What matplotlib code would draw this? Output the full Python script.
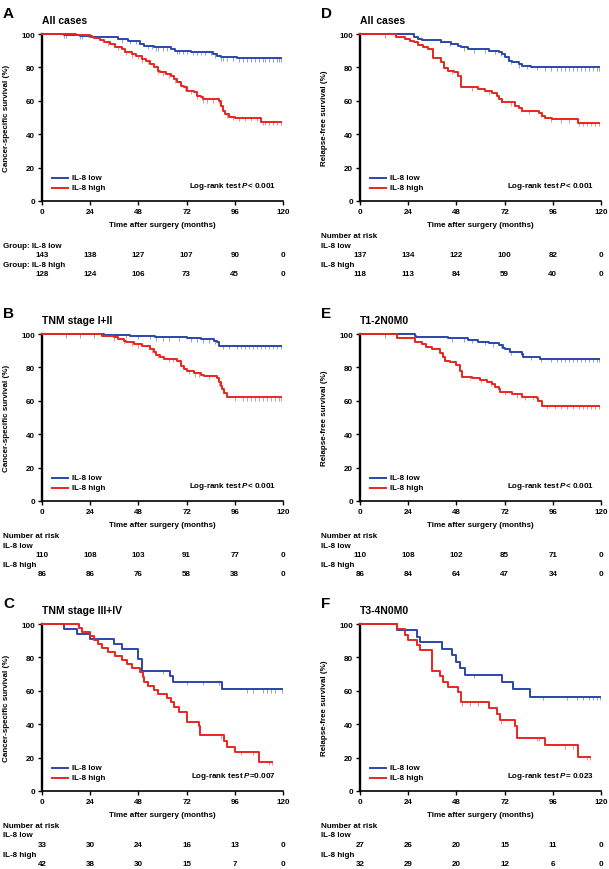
import numpy as np
import matplotlib
matplotlib.use("Agg")
import matplotlib.pyplot as plt
from matplotlib.transforms import blended_transform_factory

plt.rcParams['font.family'] = ['Liberation Sans', 'DejaVu Sans']
plt.rcParams['font.weight'] = 'bold'
plt.rcParams['mathtext.fontset'] = 'custom'
plt.rcParams['mathtext.it'] = 'Liberation Sans:bold:italic'
plt.rcParams['mathtext.rm'] = 'Liberation Sans:bold'

BLUE = '#2a48aa'
RED = '#e8261e'

# ---- data: step curves (drop time in months, survival % after drop) ----
a_low_t = [11, 19, 25, 34, 38, 43, 49, 51, 56, 64, 66, 74, 85, 87, 89, 97]
a_low_s = [99.5, 99, 98.5, 98, 97, 96, 94, 93, 92, 91, 90, 89.5, 88, 87, 86, 85.5]
a_low_c = [11, 12, 19, 20, 40, 44, 47, 53, 55, 57, 58, 60, 62, 67, 68, 70, 72, 75, 77, 79, 81,
           84, 86, 89, 90, 92, 95, 98, 100, 102, 104, 106, 108, 110, 111, 113, 115, 117, 118, 119]
a_high_t = [17, 24, 26, 29, 31, 34, 36.5, 40, 41.5, 45, 47, 50, 52, 54, 56, 58, 59, 61.5, 64,
            65.5, 67, 69, 70.5, 72, 75.5, 77, 79, 80, 88, 89, 90, 91, 93, 96, 109]
a_high_s = [99.5, 98.5, 97.5, 96.5, 95, 94, 92.5, 91, 89.5, 88, 87, 85, 84, 82, 80, 78, 77, 76, 75,
            73, 71, 69, 68, 66, 65, 63, 62, 61, 60, 57, 54, 52, 50.5, 50, 47.5]
a_high_c = [33, 38, 42, 45, 48, 50, 53, 58, 60, 63, 66, 71, 74, 77, 80, 82, 85, 88, 92, 95, 98,
            101, 104, 107, 110, 111, 113, 115, 117, 119]

b_low_t = [30.7, 44, 56.4, 72, 79, 85.5, 87, 88]
b_low_s = [99.5, 99, 98, 97.5, 97, 96, 95, 93]
b_low_c = [12, 19, 26, 36, 42, 48, 54, 57, 60, 63, 68, 74, 77, 80, 83, 86, 90, 93, 97, 99, 101,
           103, 105, 107, 109, 111, 113, 115, 117, 119]
b_high_t = [30, 35.7, 38, 40.7, 42, 45.6, 50, 54, 55.6, 57, 59, 60.6, 67, 69, 70.5, 72, 75.5,
            79, 80.5, 87, 88, 89, 89.6, 90.5, 92]
b_high_s = [99, 98, 97, 96, 95, 94, 93, 91, 89, 87.5, 86, 85.3, 84, 81, 79, 78, 76.5, 75.5, 75,
            73.5, 71, 69, 67, 64.5, 62]
b_high_c = [36, 41, 45, 48, 55, 58, 63, 65, 73, 76, 78, 83, 88, 90, 96, 100, 102, 104, 106, 108,
            110, 112, 114, 116, 118, 119]

c_low_t = [10.8, 17.4, 24, 35.7, 39.8, 48, 49.8, 63.9, 65.2, 89.6]
c_low_s = [97, 94, 91, 88, 85, 79, 72, 69, 65.5, 60.8]
c_low_c = [60, 72, 80, 88, 102, 105, 110, 112, 114, 116, 119.5]
c_high_t = [18.3, 20, 24, 25.7, 28, 30, 33, 36.5, 40, 42.3, 44.8, 49, 50.3, 50.6, 53, 55.6, 58,
            62, 64, 65.5, 68, 72, 78, 78.8, 90.5, 92, 96.3, 108]
c_high_s = [97.5, 95, 93, 90.5, 88, 85.5, 83, 81, 78.5, 76, 73.5, 71, 68.5, 65.5, 63, 60.5, 58,
            55.5, 53, 50.5, 47.5, 41.5, 39, 33.5, 30, 26.5, 23.5, 17.5]
c_high_c = [89, 99, 105, 113, 114.6]

d_low_t = [27, 29, 31, 40.5, 45.5, 49, 50.5, 54, 64, 69, 70.5, 72, 74, 75.5, 79, 80.5, 85, 90.5]
d_low_s = [98, 97, 96.5, 95, 94, 93, 92, 91, 90, 89, 88, 86, 84, 83, 82, 81, 80.5, 80]
d_low_c = [12.5, 40, 45, 52, 57, 62, 67, 70, 75, 79, 83, 88, 92, 95, 98, 100, 102, 104, 106, 108,
           110, 112, 114, 116, 118, 119]
d_high_t = [18, 22.5, 25, 27, 29, 31.5, 34, 36.5, 40.5, 42, 44, 47, 49, 50.5, 54, 59, 62, 65.5,
            68, 69, 70.5, 72, 77, 79, 80.5, 89, 90.5, 92, 95.5, 108.7]
d_high_s = [98, 97, 96, 95, 93.5, 92, 91, 85.5, 83, 79.5, 78, 77, 75, 68.5, 68, 67, 66, 64.5, 63,
            61, 59.5, 59, 57, 55.5, 54, 52.5, 51, 49.5, 49, 47]
d_high_c = [46, 56, 64, 70, 75, 80, 84, 90, 95, 100, 104, 109, 111, 113, 115, 117, 119]

e_low_t = [27.4, 28, 44, 54, 59, 64, 69, 71.4, 72, 74.7, 80.5, 81.3, 89.6]
e_low_s = [99, 98.5, 97.5, 96.5, 95.5, 94.5, 93.5, 91.5, 91, 89.5, 88, 86.5, 85.3]
e_low_c = [12.5, 46, 52, 56, 62, 66, 70, 75, 80, 85, 90, 95, 98, 100, 102, 104, 106, 108, 110,
           112, 114, 116, 118, 119]
e_high_t = [18.3, 27.4, 30.7, 33, 35.7, 40, 41.5, 42.3, 44.8, 48, 49.8, 50.6, 55.6, 59.8, 63,
            65.6, 67, 69, 69.7, 75.5, 80.5, 88, 88.8, 90.5]
e_high_s = [97.5, 95.5, 94, 92.5, 91, 88.5, 86, 84, 83, 81.5, 78, 74.5, 73.5, 72.5, 71, 70, 68.5,
            67, 65.5, 64, 62.5, 61.5, 60, 57]
e_high_c = [55, 60, 65, 72, 78, 82, 86, 93, 97, 100, 103, 106, 109, 111, 113, 115, 117, 119]

f_low_t = [18.3, 28.2, 30, 40.7, 45.6, 48, 49.8, 52.3, 70.5, 76.3, 84.6]
f_low_s = [96.5, 92.5, 89, 85, 81.5, 77.5, 73.5, 69.5, 65.5, 61, 56.5]
f_low_c = [57, 70, 91, 103, 108, 111, 114, 116, 118, 119.5]
f_high_t = [18.3, 22.4, 24, 28.2, 30, 35.7, 39.8, 41.5, 44, 49, 50.3, 64, 68, 69.7, 77.2, 78, 92,
            108.7]
f_high_s = [97, 93.5, 90.5, 87.5, 84.5, 72, 69, 65.5, 62.5, 59, 53, 50, 46, 42.5, 39, 32, 27.5,
            20.5]
f_high_c = [51, 55, 59, 70, 88, 89, 102, 106, 113, 114.5]

# numbers at risk at 0, 24, 48, 72, 96, 120 months
risk_times = [0, 24, 48, 72, 96, 120]
a_risk_low = [143, 138, 127, 107, 90, 0]
a_risk_high = [128, 124, 106, 73, 45, 0]
b_risk_low = [110, 108, 103, 91, 77, 0]
b_risk_high = [86, 86, 76, 58, 38, 0]
c_risk_low = [33, 30, 24, 16, 13, 0]
c_risk_high = [42, 38, 30, 15, 7, 0]
d_risk_low = [137, 134, 122, 100, 82, 0]
d_risk_high = [118, 113, 84, 59, 40, 0]
e_risk_low = [110, 108, 102, 85, 71, 0]
e_risk_high = [86, 84, 64, 47, 34, 0]
f_risk_low = [27, 26, 20, 15, 11, 0]
f_risk_high = [32, 29, 20, 12, 6, 0]

W, H = 609, 870
fig = plt.figure(figsize=(W / 100, H / 100), dpi=100)

FS = 5.8


def draw_curve(ax, t, s, cens, color):
    tt = np.concatenate([[0], t])
    ss = np.concatenate([[100], s])
    end = max(cens[-1], t[-1])
    tt = np.append(tt, end)
    ss = np.append(ss, ss[-1])
    ax.plot(tt, ss, drawstyle='steps-post', color=color, lw=1.4, clip_on=False, zorder=3)
    cens = np.array(cens)
    idx = np.searchsorted(tt, cens, side='right') - 1
    ax.plot(cens, ss[idx] - 0.9, linestyle='none', marker='|', ms=3, mew=0.6,
            color=color, alpha=0.6, clip_on=False, zorder=2)


def panel(letter, title, left, top, ylabel, low, high, risk_low, risk_high, pval,
          group_labels=False):
    right = left + 241
    bottom = top + 167
    ax = fig.add_axes([left / W, 1 - bottom / H, (right - left) / W, (bottom - top) / H])
    draw_curve(ax, *low, BLUE)
    draw_curve(ax, *high, RED)
    ax.set_xlim(0, 120)
    ax.set_ylim(0, 100)
    ax.set_xticks(risk_times)
    ax.set_yticks([0, 20, 40, 60, 80, 100])
    for sp in ['top', 'right']:
        ax.spines[sp].set_visible(False)
    ax.spines['left'].set_linewidth(1.7)
    ax.spines['bottom'].set_linewidth(1.2)
    ax.tick_params(direction='out', length=3, width=1.0, labelsize=FS, pad=2)
    for lab in ax.get_xticklabels() + ax.get_yticklabels():
        lab.set_fontweight('bold')

    # legend
    ax.plot([5, 13], [13.8, 13.8], color=BLUE, lw=1.4)
    ax.plot([5, 13], [7.8, 7.8], color=RED, lw=1.4)
    ax.text(15, 13.8, 'IL-8 low', fontsize=FS, va='center', ha='left')
    ax.text(15, 7.8, 'IL-8 high', fontsize=FS, va='center', ha='left')
    ax.text(116.5, 9, 'Log-rank test $\\mathit{P}$' + pval, fontsize=FS, va='center', ha='right')

    px = lambda y: 1 - y / H
    fig.text((left - 35) / W, px((top + bottom) / 2), ylabel, rotation=90, fontsize=FS,
             ha='center', va='center')
    fig.text((left + right) / 2 / W, px(bottom + 24), 'Time after surgery (months)',
             fontsize=FS, ha='center', va='center')
    fig.text(left / W, px(top - 13.5), title, fontsize=7.5, ha='left', va='center')
    fig.text((left - 39) / W, px(top - 21.5), letter, fontsize=11, ha='left', va='center')

    lx = (left - 39) / W
    if group_labels:
        fig.text(lx, px(bottom + 44), 'Group: IL-8 low', fontsize=FS, va='center')
        fig.text(lx, px(bottom + 63.5), 'Group: IL-8 high', fontsize=FS, va='center')
    else:
        fig.text(lx, px(bottom + 34.5), 'Number at risk', fontsize=FS, va='center')
        fig.text(lx, px(bottom + 44), 'IL-8 low', fontsize=FS, va='center')
        fig.text(lx, px(bottom + 63.5), 'IL-8 high', fontsize=FS, va='center')
    tr = blended_transform_factory(ax.transData, fig.transFigure)
    for tm, n1, n2 in zip(risk_times, risk_low, risk_high):
        ax.text(tm, px(bottom + 53.5), str(n1), transform=tr, fontsize=FS, ha='center',
                va='center')
        ax.text(tm, px(bottom + 73), str(n2), transform=tr, fontsize=FS, ha='center',
                va='center')


panel('A', 'All cases', 42, 35, 'Cancer-specific survival (%)',
      (a_low_t, a_low_s, a_low_c), (a_high_t, a_high_s, a_high_c),
      a_risk_low, a_risk_high, '< 0.001', group_labels=True)
panel('B', 'TNM stage I+II', 42, 335, 'Cancer-specific survival (%)',
      (b_low_t, b_low_s, b_low_c), (b_high_t, b_high_s, b_high_c),
      b_risk_low, b_risk_high, '< 0.001')
panel('C', 'TNM stage III+IV', 42, 625, 'Cancer-specific survival (%)',
      (c_low_t, c_low_s, c_low_c), (c_high_t, c_high_s, c_high_c),
      c_risk_low, c_risk_high, '=0.007')
panel('D', 'All cases', 360, 35, 'Relapse-free survival (%)',
      (d_low_t, d_low_s, d_low_c), (d_high_t, d_high_s, d_high_c),
      d_risk_low, d_risk_high, '< 0.001')
panel('E', 'T1-2N0M0', 360, 335, 'Relapse-free survival (%)',
      (e_low_t, e_low_s, e_low_c), (e_high_t, e_high_s, e_high_c),
      e_risk_low, e_risk_high, '< 0.001')
panel('F', 'T3-4N0M0', 360, 625, 'Relapse-free survival (%)',
      (f_low_t, f_low_s, f_low_c), (f_high_t, f_high_s, f_high_c),
      f_risk_low, f_risk_high, '= 0.023')

fig.savefig('out.png', dpi=100)
